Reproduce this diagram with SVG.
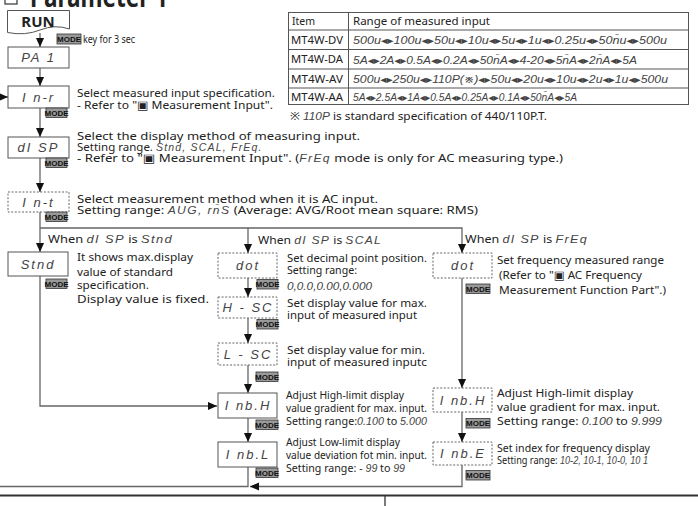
<svg xmlns="http://www.w3.org/2000/svg" width="698" height="506" viewBox="0 0 698 506">
<style>
.t{font-family:"Noto Sans","DejaVu Sans",sans-serif;font-size:11.5px;fill:#222}
.s{font-family:"Noto Sans","DejaVu Sans",sans-serif;font-size:11px;fill:#222}
.tb{font-family:"Noto Sans","DejaVu Sans",sans-serif;font-size:10.5px;fill:#222}
.seg{font-family:"Liberation Sans","DejaVu Sans",sans-serif;font-style:italic;font-weight:normal;fill:#444}
.bx{font-size:13px;letter-spacing:2px}
.ar{font-family:"DejaVu Sans",sans-serif;font-style:normal;fill:#333}
.box{fill:#fff;stroke:#555;stroke-width:1}
.dbox{fill:#fff;stroke:#666;stroke-width:1;stroke-dasharray:2 1.6}
.ln{fill:none;stroke:#666;stroke-width:1.3}
.mk{fill:#999;stroke:#333;stroke-width:0.8}
.mt{font-family:"Liberation Sans Narrow","Liberation Sans",sans-serif;font-size:8px;font-weight:bold;fill:#111}
.tbl{fill:none;stroke:#555;stroke-width:1}
</style>
<defs>
<marker id="ah" viewBox="0 0 10 10" refX="10" refY="5" markerWidth="9" markerHeight="9" markerUnits="userSpaceOnUse" orient="auto">
<path d="M0,0.5 L10,5 L0,9.5 z" fill="#111"/>
</marker>
</defs>

<!-- title -->
<g id="title">
<rect x="5" y="-8" width="12" height="12" fill="none" stroke="#333" stroke-width="1.2"/>
<line x1="7.5" y1="-1.5" x2="14.5" y2="-1.5" stroke="#333" stroke-width="1.5"/>
<text x="30" y="6.5" font-family="Noto Sans, DejaVu Sans, sans-serif" font-size="28" font-weight="bold" fill="#222" textLength="138" lengthAdjust="spacingAndGlyphs">Parameter 1</text>
</g>

<!-- connectors -->
<g id="connectors">
<path class="ln" d="M40,33 V47" marker-end="url(#ah)"/>
<path class="ln" d="M40,68 V86" marker-end="url(#ah)"/>
<path class="ln" d="M40,108 V137" marker-end="url(#ah)"/>
<path class="ln" d="M40,158 V192" marker-end="url(#ah)"/>
<path class="ln" d="M40,212 V252" marker-end="url(#ah)"/>
<path class="ln" d="M40,228 H462 V253" marker-end="url(#ah)"/>
<path class="ln" d="M248,228 V253" marker-end="url(#ah)"/>
<path class="ln" d="M40,276 V406 H217" marker-end="url(#ah)"/>
<path class="ln" d="M248,278 V297" marker-end="url(#ah)"/>
<path class="ln" d="M248,318 V343" marker-end="url(#ah)"/>
<path class="ln" d="M248,365 V393" marker-end="url(#ah)"/>
<path class="ln" d="M248,418 V442" marker-end="url(#ah)"/>
<path class="ln" d="M462,278 V388" marker-end="url(#ah)"/>
<path class="ln" d="M462,412 V442" marker-end="url(#ah)"/>
<path class="ln" d="M462,465 V486.5 H250" marker-end="url(#ah)"/>
<path class="ln" d="M248,467 V486.5 H-4 V97 H8" marker-end="url(#ah)"/>
</g>

<!-- nodes -->
<g id="run">
<path class="box" d="M7.5,10.5 H69.5 V29 Q55,24 40,30 T7.5,32.5 Z"/>
<text x="38" y="27" text-anchor="middle" font-family="Noto Sans, DejaVu Sans, sans-serif" font-size="15" font-weight="bold" fill="#222">RUN</text>
<rect class="mk" x="57" y="34" width="24" height="10"/>
<text class="mt" x="69" y="42" text-anchor="middle">MODE</text>
<text class="s" x="83" y="43" font-size="10" textLength="52" lengthAdjust="spacingAndGlyphs">key for 3 sec</text>
</g>

<g id="pa1">
<rect class="box" x="8" y="47" width="61" height="21"/>
<text class="seg bx" x="38.5" y="62" text-anchor="middle">PA 1</text>
</g>

<g id="in-r">
<rect class="box" x="8" y="86" width="61" height="22"/>
<text class="seg bx" x="38.5" y="101.5" text-anchor="middle">I n-r</text>
<rect class="mk" x="46" y="108" width="21" height="9.5"/>
<text class="mt" x="56.5" y="115.7" text-anchor="middle">MODE</text>
<text class="t" x="77" y="97" font-size="11" textLength="198" lengthAdjust="spacingAndGlyphs">Select measured input specification.</text>
<text class="t" x="77" y="108.5" font-size="11" textLength="196" lengthAdjust="spacingAndGlyphs">- Refer to "▣ Measurement Input".</text>
</g>

<g id="disp">
<rect class="box" x="8" y="137" width="61" height="21"/>
<text class="seg bx" x="38.5" y="152" text-anchor="middle">dI SP</text>
<rect class="mk" x="46" y="158" width="21" height="9.5"/>
<text class="mt" x="56.5" y="165.7" text-anchor="middle">MODE</text>
<text class="t" x="77" y="140" font-size="11" textLength="283" lengthAdjust="spacingAndGlyphs">Select the display method of measuring input.</text>
<text class="t" x="77" y="151" font-size="11">Setting range. <tspan class="seg" font-size="10.5" letter-spacing="1.2">Stnd, SCAL, FrEq.</tspan></text>
<text class="t" x="77" y="162" font-size="11" textLength="486" lengthAdjust="spacingAndGlyphs">- Refer to "▣ Measurement Input". (<tspan class="seg" font-size="10.5" letter-spacing="1.2">FrEq</tspan> mode is only for AC measuring type.)</text>
</g>

<g id="in-t">
<rect class="dbox" x="8" y="192" width="61" height="20"/>
<text class="seg bx" x="38.5" y="206.5" text-anchor="middle">I n-t</text>
<rect class="mk" x="46" y="212" width="21" height="9.5"/>
<text class="mt" x="56.5" y="219.7" text-anchor="middle">MODE</text>
<text class="t" x="77" y="203" font-size="11" textLength="301" lengthAdjust="spacingAndGlyphs">Select measurement method when it is AC input.</text>
<text class="t" x="77" y="214" font-size="11" textLength="401" lengthAdjust="spacingAndGlyphs">Setting range: <tspan class="seg" font-size="10.5" letter-spacing="1.2">AUG, rn̄S</tspan> (Average: AVG/Root mean square: RMS)</text>
</g>

<g id="branch-labels">
<text class="t" x="48" y="243" textLength="125" lengthAdjust="spacingAndGlyphs">When <tspan class="seg" letter-spacing="1.2">dI SP</tspan> is <tspan class="seg" letter-spacing="1.2">Stnd</tspan></text>
<text class="t" x="258" y="244" textLength="124" lengthAdjust="spacingAndGlyphs">When <tspan class="seg" letter-spacing="1.2">dI SP</tspan> is <tspan class="seg" letter-spacing="1.2">SCAL</tspan></text>
<text class="t" x="465" y="243" textLength="123" lengthAdjust="spacingAndGlyphs">When <tspan class="seg" letter-spacing="1.2">dI SP</tspan> is <tspan class="seg" letter-spacing="1.2">FrEq</tspan></text>
</g>

<g id="stnd">
<rect class="box" x="8" y="252" width="60" height="24"/>
<text class="seg bx" x="38" y="268.5" text-anchor="middle">Stnd</text>
<rect class="mk" x="46" y="279" width="21" height="9.5"/>
<text class="mt" x="56.5" y="286.7" text-anchor="middle">MODE</text>
<text class="t" x="77" y="261" font-size="12" textLength="116" lengthAdjust="spacingAndGlyphs">It shows max.display</text>
<text class="t" x="77" y="275.5" font-size="12" textLength="96" lengthAdjust="spacingAndGlyphs">value of standard</text>
<text class="t" x="77" y="289" font-size="12" textLength="72" lengthAdjust="spacingAndGlyphs">specification.</text>
<text class="t" x="77" y="302.5" font-size="12" textLength="132" lengthAdjust="spacingAndGlyphs">Display value is fixed.</text>
</g>

<g id="dot-scal">
<rect class="dbox" x="218" y="253" width="59" height="25"/>
<text class="seg bx" x="248" y="270" text-anchor="middle">dot</text>
<rect class="mk" x="257" y="279.5" width="21" height="9.5"/>
<text class="mt" x="267.5" y="287.2" text-anchor="middle">MODE</text>
<text class="t" x="287" y="262" textLength="140" lengthAdjust="spacingAndGlyphs">Set decimal point position.</text>
<text class="t" x="287" y="274" textLength="70" lengthAdjust="spacingAndGlyphs">Setting range:</text>
<text class="seg" x="287" y="289.5" font-size="11.5" textLength="85" lengthAdjust="spacingAndGlyphs">0,0.0,0.00,0.000</text>
</g>

<g id="h-sc">
<rect class="dbox" x="218" y="297" width="59" height="21"/>
<text class="seg bx" x="248" y="312" text-anchor="middle">H - SC</text>
<rect class="mk" x="257" y="319.5" width="21" height="9.5"/>
<text class="mt" x="267.5" y="327.2" text-anchor="middle">MODE</text>
<text class="t" x="287" y="307" textLength="140" lengthAdjust="spacingAndGlyphs">Set display value for max.</text>
<text class="t" x="287" y="319" textLength="130" lengthAdjust="spacingAndGlyphs">input of measured input</text>
</g>

<g id="l-sc">
<rect class="dbox" x="218" y="343" width="59" height="22"/>
<text class="seg bx" x="248" y="358.5" text-anchor="middle">L - SC</text>
<rect class="mk" x="256" y="372" width="22" height="9.5"/>
<text class="mt" x="267" y="379.7" text-anchor="middle">MODE</text>
<text class="t" x="287" y="354" textLength="138" lengthAdjust="spacingAndGlyphs">Set display value for min.</text>
<text class="t" x="287" y="366" textLength="140" lengthAdjust="spacingAndGlyphs">input of measured inputc</text>
</g>

<g id="inb-h-scal">
<rect class="box" x="218" y="393" width="59" height="25"/>
<text class="seg bx" x="248" y="410" text-anchor="middle">I nb.H</text>
<rect class="mk" x="256" y="420" width="22" height="9.5"/>
<text class="mt" x="267" y="427.7" text-anchor="middle">MODE</text>
<text class="s" x="286" y="399" textLength="118" lengthAdjust="spacingAndGlyphs">Adjust High-limit display</text>
<text class="s" x="286" y="412" textLength="141" lengthAdjust="spacingAndGlyphs">value gradient for max. input.</text>
<text class="s" x="286" y="425" textLength="141" lengthAdjust="spacingAndGlyphs">Setting range:<tspan class="seg">0.100</tspan> to <tspan class="seg">5.000</tspan></text>
</g>

<g id="inb-l">
<rect class="box" x="218" y="442" width="59" height="25"/>
<text class="seg bx" x="248" y="459" text-anchor="middle">I nb.L</text>
<rect class="mk" x="256" y="468" width="22" height="9.5"/>
<text class="mt" x="267" y="475.7" text-anchor="middle">MODE</text>
<text class="s" x="286" y="446" textLength="114" lengthAdjust="spacingAndGlyphs">Adjust Low-limit display</text>
<text class="s" x="286" y="459" textLength="141" lengthAdjust="spacingAndGlyphs">value deviation fot min. input.</text>
<text class="s" x="286" y="471.5" textLength="119" lengthAdjust="spacingAndGlyphs">Setting range: <tspan class="seg">- 99</tspan> to <tspan class="seg">99</tspan></text>
</g>

<g id="dot-freq">
<rect class="dbox" x="433" y="253" width="59" height="25"/>
<text class="seg bx" x="463" y="270" text-anchor="middle">dot</text>
<rect class="mk" x="466" y="284" width="24" height="9.5"/>
<text class="mt" x="478" y="291.7" text-anchor="middle">MODE</text>
<text class="t" x="497" y="264" textLength="167" lengthAdjust="spacingAndGlyphs">Set frequency measured range</text>
<text class="t" x="499" y="278.5" textLength="143" lengthAdjust="spacingAndGlyphs">(Refer to "▣ AC Frequency</text>
<text class="t" x="499" y="293.5" textLength="167" lengthAdjust="spacingAndGlyphs">Measurement Function Part".)</text>
</g>

<g id="inb-h-freq">
<rect class="dbox" x="433" y="388" width="59" height="24"/>
<text class="seg bx" x="463" y="404.5" text-anchor="middle">I nb.H</text>
<rect class="mk" x="466" y="418.5" width="24" height="9.5"/>
<text class="mt" x="478" y="426.2" text-anchor="middle">MODE</text>
<text class="s" x="497" y="397" font-size="11.5" textLength="136" lengthAdjust="spacingAndGlyphs">Adjust High-limit display</text>
<text class="s" x="497" y="411" font-size="11.5" textLength="163" lengthAdjust="spacingAndGlyphs">value gradient for max. input.</text>
<text class="s" x="497" y="425" font-size="11.5" textLength="165" lengthAdjust="spacingAndGlyphs">Setting range: <tspan class="seg">0.100</tspan> to <tspan class="seg">9.999</tspan></text>
</g>

<g id="inb-e">
<rect class="dbox" x="433" y="442" width="59" height="23"/>
<text class="seg bx" x="463" y="458" text-anchor="middle">I nb.E</text>
<rect class="mk" x="466" y="470.5" width="24" height="9.5"/>
<text class="mt" x="478" y="478.2" text-anchor="middle">MODE</text>
<text class="s" x="497" y="452" textLength="153" lengthAdjust="spacingAndGlyphs">Set index for frequency display</text>
<text class="s" x="497" y="464" textLength="151" lengthAdjust="spacingAndGlyphs">Setting range: <tspan class="seg">10-2, 10-1, 10-0, 10 1</tspan></text>
</g>

<!-- table -->
<g id="range-table">
<rect class="tbl" x="288.5" y="12.5" width="400" height="92"/>
<line class="tbl" x1="348.5" y1="12.5" x2="348.5" y2="104.5"/>
<line class="tbl" x1="288.5" y1="30" x2="688.5" y2="30"/>
<line class="tbl" x1="288.5" y1="49.5" x2="688.5" y2="49.5"/>
<line class="tbl" x1="288.5" y1="69" x2="688.5" y2="69"/>
<line class="tbl" x1="288.5" y1="88" x2="688.5" y2="88"/>
<text class="tb" x="292" y="25">Item</text>
<text class="tb" x="353" y="25" textLength="137" lengthAdjust="spacingAndGlyphs">Range of measured input</text>
<text class="tb" x="291" y="43.5" textLength="52" lengthAdjust="spacingAndGlyphs">MT4W-DV</text>
<text class="tb" x="291" y="63" textLength="52" lengthAdjust="spacingAndGlyphs">MT4W-DA</text>
<text class="tb" x="291" y="82.5" textLength="52" lengthAdjust="spacingAndGlyphs">MT4W-AV</text>
<text class="tb" x="291" y="100.5" textLength="52" lengthAdjust="spacingAndGlyphs">MT4W-AA</text>
<text class="seg" x="353" y="44" font-size="10.5" textLength="314" lengthAdjust="spacingAndGlyphs">500u◂▸100u◂▸50u◂▸10u◂▸5u◂▸1u◂▸0.25u◂▸50n̄u◂▸500u</text>
<text class="seg" x="353" y="63.5" font-size="10.5" textLength="284" lengthAdjust="spacingAndGlyphs">5A◂▸2A◂▸0.5A◂▸0.2A◂▸50n̄A◂▸4-20◂▸5n̄A◂▸2n̄A◂▸5A</text>
<text class="seg" x="353" y="83" font-size="10.5" textLength="315" lengthAdjust="spacingAndGlyphs">500u◂▸250u◂▸110P(※)◂▸50u◂▸20u◂▸10u◂▸2u◂▸1u◂▸500u</text>
<text class="seg" x="353" y="101" font-size="10.5" textLength="224" lengthAdjust="spacingAndGlyphs">5A◂▸2.5A◂▸1A◂▸0.5A◂▸0.25A◂▸0.1A◂▸50n̄A◂▸5A</text>
<text class="tb" x="290" y="120" font-size="10" textLength="257" lengthAdjust="spacingAndGlyphs">※ <tspan class="seg">110P</tspan> is standard specification of 440/110P.T.</text>
</g>

<!-- bottom separator -->
<g id="separator">
<line x1="0" y1="495.5" x2="698" y2="495.5" stroke="#333" stroke-width="2"/>
<line x1="385" y1="496" x2="385" y2="506" stroke="#333" stroke-width="1.3"/>
</g>
</svg>
